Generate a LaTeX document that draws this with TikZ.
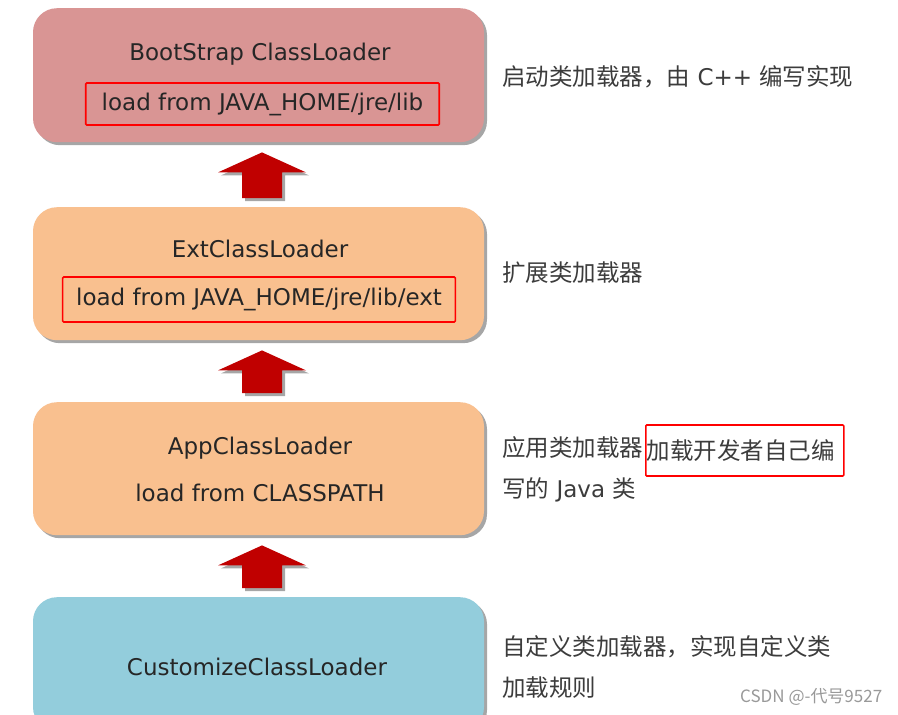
\documentclass[tikz,border=0pt]{standalone}
\usepackage{fontspec}
\setmainfont{DejaVu Sans}
\newfontfamily\cjk{Noto Sans CJK SC}
\usepackage{xcolor}
\usetikzlibrary{positioning,calc,shadows}

\definecolor{bootred}{HTML}{D99594}
\definecolor{extpeach}{HTML}{F9C08F}
\definecolor{custblue}{HTML}{93CDDC}
\definecolor{arrowred}{HTML}{C00000}
\definecolor{inktext}{HTML}{262626}

\tikzset{
  loader/.style={rounded corners=24pt, minimum width=451pt, minimum height=134pt,
    inner sep=0pt, text=inktext, font=\fontsize{23}{28}\selectfont,
    drop shadow={shadow xshift=3pt, shadow yshift=-3pt, fill=black, opacity=0.35}},
  loadtext/.style={text=inktext, font=\fontsize{23}{28}\selectfont, inner sep=0pt},
  redmark/.style={draw=red, line width=1.6pt, rounded corners=1pt},
  note/.style={anchor=west, text=inktext!90, font=\cjk\fontsize{23.5}{42}\selectfont, inner sep=0pt, align=left},
  liftarrow/.style={fill=arrowred,
    drop shadow={shadow xshift=3pt, shadow yshift=-3pt, fill=black, opacity=0.35}}
}

\begin{document}
\begin{tikzpicture}[x=1pt,y=-1pt]
\fill[white] (0,0) rectangle (898,715);
\clip (0,0) rectangle (898,715);

% class loader boxes
\node (boot) [loader, fill=bootred, anchor=north] at (258.5,8) {};
\node (ext) [loader, fill=extpeach, anchor=north, minimum height=133pt] at (258.5,207) {};
\node (app) [loader, fill=extpeach, anchor=north, minimum height=133pt] at (258.5,402) {};
\node (cust) [loader, fill=custblue, anchor=north] at (258.5,597) {};

\node (bootname) [loadtext] at (260,54) {BootStrap ClassLoader};
\node (bootpath) [loadtext, redmark, inner xsep=16pt, minimum height=42pt] at (262.5,104) {load from JAVA\_HOME/jre/lib};
\node (extname) [loadtext] at (260,249) {ExtClassLoader};
\node (extpath) [loadtext, redmark, inner xsep=13.5pt, minimum height=45pt] at (259,299.5) {load from JAVA\_HOME/jre/lib/ext};
\node (appname) [loadtext] at (260,448) {AppClassLoader};
\node (apppath) [loadtext] at (260,493) {load from CLASSPATH};
\node (custname) [loadtext] at (257,667) {CustomizeClassLoader};

% block arrows between the boxes
\foreach \lo/\hi in {ext/boot, app/ext, cust/app}
  \fill[liftarrow] ($(\hi.south)+(3.5,10)$) -- ++(44,20) -- ++(-24,0)
    -- ($(\lo.north)+(23.5,-9)$) -- ++(-40,0) -- ($(\hi.south)+(-16.5,30)$) -- ++(-24,0) -- cycle;

% notes on the right
\node (bootnote) [note] at (502,77) {启动类加载器，由{\rmfamily\fontsize{23}{42}\selectfont\ C++ }编写实现};
\node (extnote) [note] at (502,273) {扩展类加载器};
\node (appnote) [note] at (502,448) {应用类加载器};
\node (appmark) [note, redmark, inner sep=0pt, minimum width=198pt, text width=198pt, minimum height=51pt] at (645,450.5) {\hspace{1pt}加载开发者自己编};
\node (appnote2) [note] at (502,490) {写的{\rmfamily\fontsize{23}{42}\selectfont\ Java }类};
\node (custnote) [note] at (502,647) {自定义类加载器，实现自定义类};
\node (custnote2) [note] at (502,688) {加载规则};

\node (mark) [anchor=west, text=black!40, font=\cjk\fontsize{17}{20}\selectfont, inner sep=0pt] at (740,697) {CSDN @-代号9527};
\end{tikzpicture}
\end{document}
